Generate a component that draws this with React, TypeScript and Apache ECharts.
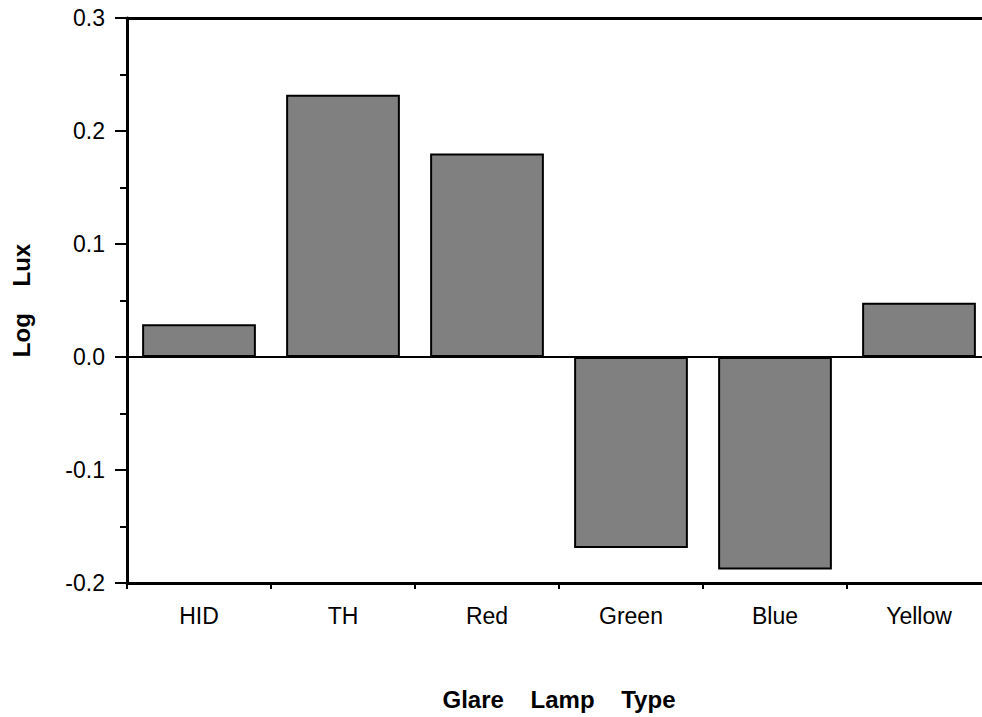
import React, { useEffect, useRef } from "react";
import * as echarts from "echarts";

const categories = ["HID", "TH", "Red", "Green", "Blue", "Yellow"];
const logLux = [0.029, 0.232, 0.18, -0.169, -0.188, 0.048];
const yMin = -0.2;
const yMax = 0.3;
const yInterval = 0.1;

const FONT = "'Liberation Sans', Arial, Helvetica, sans-serif";

export default function App() {
  const ref = useRef<HTMLDivElement>(null);
  useEffect(() => {
    if (!ref.current) return;
    const chart = echarts.init(ref.current, null, { renderer: "svg" });
    chart.setOption({
      animation: false,
      backgroundColor: "#ffffff",
      grid: { left: 127, top: 18, right: 0, bottom: 134, containLabel: false },
      xAxis: [
        {
          type: "category",
          data: categories,
          position: "bottom",
          name: "Glare    Lamp    Type",
          nameLocation: "middle",
          nameGap: 104,
          nameTextStyle: { fontFamily: FONT, fontSize: 24, fontWeight: "bold", color: "#000" },
          axisLine: { show: true, onZero: false, lineStyle: { color: "#000", width: 3 } },
          axisTick: { show: true, inside: false, length: 6, alignWithLabel: false, lineStyle: { color: "#000", width: 2 } },
          axisLabel: { fontFamily: FONT, fontSize: 23, color: "#000", margin: 21 },
          splitLine: { show: false },
        },
        {
          type: "category",
          data: categories,
          position: "top",
          axisLine: { show: true, onZero: false, lineStyle: { color: "#000", width: 3 } },
          axisTick: { show: false },
          axisLabel: { show: false },
          splitLine: { show: false },
        },
      ],
      yAxis: {
        type: "value",
        min: yMin,
        max: yMax,
        interval: yInterval,
        name: "Log    Lux",
        nameLocation: "middle",
        nameGap: 94,
        nameTextStyle: { fontFamily: FONT, fontSize: 24, fontWeight: "bold", color: "#000" },
        axisLine: { show: true, lineStyle: { color: "#000", width: 3 } },
        axisTick: { show: true, inside: false, length: 12, lineStyle: { color: "#000", width: 2 } },
        minorTick: { show: true, splitNumber: 2, length: 7, lineStyle: { color: "#000", width: 2 } },
        axisLabel: {
          fontFamily: FONT,
          fontSize: 23,
          color: "#000",
          margin: 22,
          formatter: (v: number) => v.toFixed(1),
        },
        splitLine: { show: false },
      },
      series: [
        {
          type: "bar",
          data: logLux,
          xAxisIndex: 0,
          barCategoryGap: "21%",
          itemStyle: { color: "#808080", borderColor: "#000", borderWidth: 2 },
          markLine: {
            silent: true,
            symbol: "none",
            label: { show: false },
            lineStyle: { color: "#000", width: 2, type: "solid" },
            data: [{ yAxis: 0 }],
          },
        },
      ],
    });
    return () => chart.dispose();
  }, []);
  return (
    <div
      style={{
        position: "fixed",
        left: 0,
        top: 0,
        width: 982,
        height: 717,
        overflow: "hidden",
        background: "#fff",
      }}
    >
      <div ref={ref} style={{ width: 991, height: 717 }} />
    </div>
  );
}
